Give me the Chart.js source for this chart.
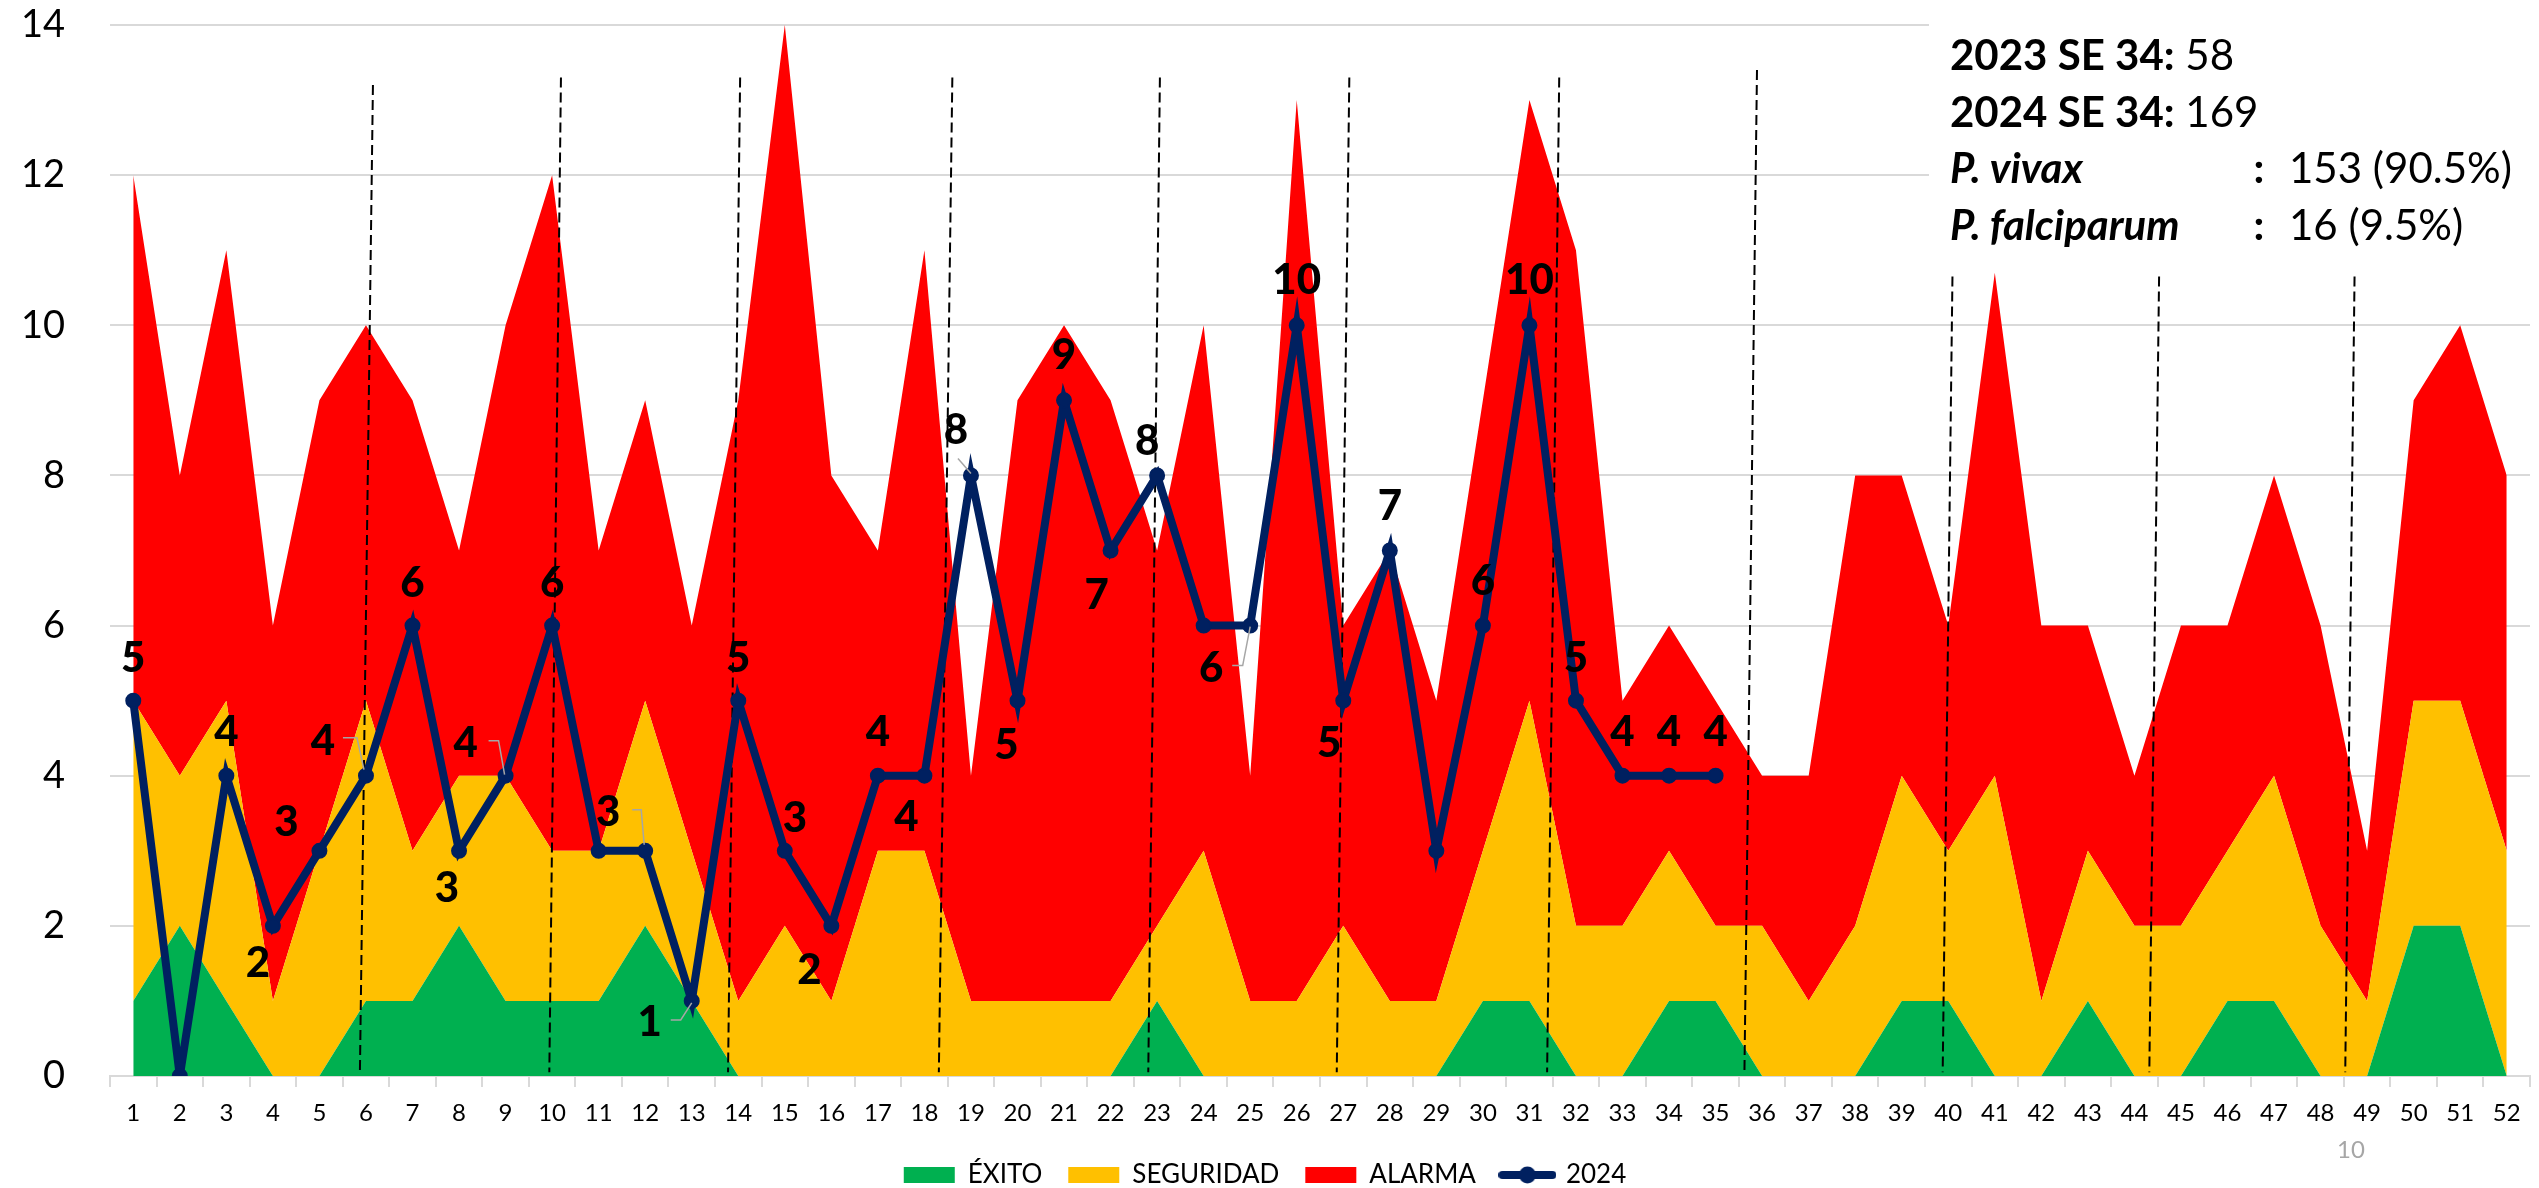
<!DOCTYPE html>
<html><head><meta charset="utf-8">
<script src="https://cdn.jsdelivr.net/npm/chart.js@4.4.1/dist/chart.umd.min.js"></script>
<style>html,body{margin:0;padding:0;background:#fff;overflow:hidden}</style>
</head><body>
<canvas id="c" width="2539" height="1188" style="width:2539px;height:1188px;display:block"></canvas>
<script>
// ---------- DATA ----------
const weekLabels = ['1','2','3','4','5','6','7','8','9','10','11','12','13','14','15','16','17','18','19','20','21','22','23','24','25','26','27','28','29','30','31','32','33','34','35','36','37','38','39','40','41','42','43','44','45','46','47','48','49','50','51','52'];
// cumulative limits of the endemic channel
const exito     = [1,2,1,0,0,1,1,2,1,1,1,2,1,0,0,0,0,0,0,0,0,0,1,0,0,0,0,0,0,1,1,0,0,1,1,0,0,0,1,1,0,0,1,0,0,1,1,0,0,2,2,0];
const seguridad = [5,4,5,1,3,5,3,4,4,3,3,5,3,1,2,1,3,3,1,1,1,1,2,3,1,1,2,1,1,3,5,2,2,3,2,2,1,2,4,3,4,1,3,2,2,3,4,2,1,5,5,3];
const alarma    = [12,8,11,6,9,10,9,7,10,12,7,9,6,9,14,8,7,11,4,9,10,9,7,10,4,13,6,7,5,9,13,11,5,6,5,4,4,8,8,6,10.7,6,6,4,6,6,8,6,3,9,10,8];
const casos2024 = [5,0,4,2,3,4,6,3,4,6,3,3,1,5,3,2,4,4,8,5,9,7,8,6,6,10,5,7,3,6,10,5,4,4,4,null,null,null,null,null,null,null,null,null,null,null,null,null,null,null,null,null];
const seriesNames = ['ÉXITO','SEGURIDAD','ALARMA','2024'];
const yTicks = [0,2,4,6,8,10,12,14];
// month separators (in week units): top x, bottom x, top value
const monthTopWeek    = [6.15,10.19,14.04,18.6,23.06,27.13,31.64,35.89,40.09,44.53,48.73];
const monthBottomWeek = [5.87,9.94,13.78,18.31,22.81,26.86,31.38,35.62,39.88,44.32,48.53];
const monthTopValue   = [13.2,13.3,13.3,13.3,13.3,13.3,13.3,13.4,10.65,10.65,10.65];
const infoLines = [
  [['b','2023 SE 34:'],['r',' 58']],
  [['b','2024 SE 34:'],['r',' 169']],
  [['bi','P. vivax'],['colon',':'],['val','153 (90.5%)']],
  [['bi','P. falciparum'],['colon',':'],['val','16 (9.5%)']]
];
const pageNumber = '10';

// ---------- STYLE ----------
const COLORS = ['#00B050','#FFC000','#FF0000','#002060'];
const FONT = 'Lato';
// label offsets (px) relative to the point, null = no label
const labelOffsets = [
 [0,-44], null, [0,-45], [-15,36], [-33,-30], [-43,-36], [0,-44], [-12,36], [-40,-34], [0,-44],
 null, [-37,-40], [-42,20], [0,-44], [10,-34], [-22,43], [0,-45], [-18,40], [-15,-47], [-11,43],
 [0,-46], [-14,43], [-10,-36], null, [-39,41], [0,-46], [-14,41], [0,-46], null, [0,-46],
 [0,-46], [0,-44], [0,-45], [0,-45], [0,-45]
];
const leaders = {5:[[-23,-38],[-9,-38],[-2,-6]], 8:[[-17,-35],[-7,-35],[-1,-1]], 11:[[-13,-41],[-4,-41],[-1,-6]],
                 12:[[-21,19],[-11,19],[0,2]], 18:[[-13,-17],[0,-2]], 24:[[-18,40],[-7.5,40],[0,1]]};

// legend marker for the line series
const lineMarker = document.createElement('canvas');
lineMarker.width = 58; lineMarker.height = 18;
(function(){const g=lineMarker.getContext('2d');g.strokeStyle=COLORS[3];g.lineWidth=8;g.lineCap='round';g.beginPath();g.moveTo(4,9);g.lineTo(54,9);g.stroke();
g.fillStyle=COLORS[3];g.beginPath();g.arc(29,9,8.5,0,Math.PI*2);g.fill();})();

function weekToPx(chart, w){
  const x = chart.scales.x; const p0 = x.getPixelForValue(0), p1 = x.getPixelForValue(1);
  return p0 + (w-1)*(p1-p0);
}

const decorPlugin = {
  id:'decor',
  afterLayout(chart){ if(chart.legend){chart.legend.top += 10; chart.legend.bottom += 10;} },
  beforeDatasetsDraw(chart){
    const ctx = chart.ctx; ctx.save(); ctx.fillStyle='#fff'; ctx.fillRect(1929,0,chart.width-1929,272); ctx.restore();
  },
  afterDatasetDraw(chart, args){
    if (args.index !== 0) return;
    const ctx = chart.ctx, y = chart.scales.y;
    ctx.save(); ctx.strokeStyle='#000'; ctx.lineWidth=2; ctx.setLineDash([10,5]);
    for (let i=0;i<monthTopWeek.length;i++){
      ctx.beginPath();
      ctx.moveTo(weekToPx(chart,monthTopWeek[i]), y.getPixelForValue(monthTopValue[i]));
      ctx.lineTo(weekToPx(chart,monthBottomWeek[i]), y.getPixelForValue(0.05));
      ctx.stroke();
    }
    ctx.restore();
  },
  afterDatasetsDraw(chart){
    const ctx = chart.ctx, meta = chart.getDatasetMeta(3);
    ctx.save();
    ctx.strokeStyle='#A6A6A6'; ctx.lineWidth=1.5;
    Object.keys(leaders).forEach(k=>{
      const pt = meta.data[+k]; const pts = leaders[k];
      ctx.beginPath(); ctx.moveTo(pt.x+pts[0][0], pt.y+pts[0][1]);
      for (let j=1;j<pts.length;j++) ctx.lineTo(pt.x+pts[j][0], pt.y+pts[j][1]);
      ctx.stroke();
    });
    const fs = 42;
    ctx.font = `900 ${fs}px ${FONT}`; ctx.fillStyle='#000'; ctx.textAlign='center'; ctx.textBaseline='alphabetic';
    casos2024.forEach((v,i)=>{
      if (v===null || !labelOffsets[i]) return;
      const pt = meta.data[i];
      ctx.fillText(String(v), pt.x+labelOffsets[i][0], pt.y+labelOffsets[i][1]+fs*0.36);
    });
    ctx.restore();
  },
  afterDraw(chart){
    const ctx = chart.ctx; ctx.save(); ctx.fillStyle='#000'; ctx.textBaseline='alphabetic'; ctx.textAlign='left';
    const base = [70,127,183,240]; const fs = 42;
    infoLines.forEach((line,li)=>{
      let x = 1950;
      line.forEach(([kind,txt])=>{
        if (kind==='b'){ctx.font=`bold ${fs}px ${FONT}`;}
        else if (kind==='bi'){ctx.font=`italic bold ${fs}px ${FONT}`;}
        else if (kind==='r'){ctx.font=`${fs}px ${FONT}`;}
        else if (kind==='colon'){ctx.font=`bold ${fs}px ${FONT}`; ctx.textAlign='center'; ctx.fillText(txt,2259,base[li]); ctx.textAlign='left'; return;}
        else if (kind==='val'){ctx.font=`${fs}px ${FONT}`; ctx.fillText(txt,2289,base[li]); return;}
        ctx.fillText(txt,x,base[li]); x += ctx.measureText(txt).width;
      });
    });
    ctx.font = `24px ${FONT}`; ctx.fillStyle='#A6A6A6'; ctx.textAlign='center'; ctx.textBaseline='middle';
    ctx.fillText(pageNumber, 2351, 1150);
    ctx.restore();
  }
};

new Chart(document.getElementById('c'), {
  type:'line',
  data:{
    labels: weekLabels,
    datasets:[
      {label:seriesNames[0], data:exito, backgroundColor:COLORS[0], borderColor:COLORS[0], borderWidth:0, pointRadius:0, fill:'origin', order:1},
      {label:seriesNames[1], data:seguridad, backgroundColor:COLORS[1], borderColor:COLORS[1], borderWidth:0, pointRadius:0, fill:'-1', order:2},
      {label:seriesNames[2], data:alarma, backgroundColor:COLORS[2], borderColor:COLORS[2], borderWidth:0, pointRadius:0, fill:'-1', order:3},
      {label:seriesNames[3], data:casos2024, borderColor:COLORS[3], backgroundColor:COLORS[3], borderWidth:8, pointRadius:7, pointBorderWidth:2, pointBackgroundColor:COLORS[3], pointBorderColor:COLORS[3], fill:false, order:0, spanGaps:false}
    ]
  },
  options:{
    responsive:false, animation:false, devicePixelRatio:1,
    elements:{line:{tension:0}},
    layout:{padding:{top:25,right:9,left:0,bottom:0}},
    scales:{
      x:{offset:true,
         grid:{offset:true, drawOnChartArea:false, drawTicks:true, tickLength:11, color:'#D9D9D9', lineWidth:2},
         border:{color:'#D9D9D9', width:2},
         ticks:{font:{family:FONT,size:24}, color:'#000', padding:12, maxRotation:0, autoSkip:false},
         afterFit(s){ s.height = 50; }
      },
      y:{min:0,max:14,
         afterBuildTicks(s){ s.ticks = yTicks.map(v=>({value:v})); },
         grid:{color:'#D9D9D9', lineWidth:2, drawTicks:false},
         border:{display:false},
         ticks:{font:{family:FONT,size:38}, color:'#000', padding:45},
         afterFit(s){ s.width = 110; s.paddingTop = 0; s.paddingBottom = 0; }
      }
    },
    plugins:{
      tooltip:{enabled:false},
      legend:{position:'bottom',
        labels:{usePointStyle:true, pointStyleWidth:51, boxHeight:16, padding:26, color:'#000', font:{family:FONT,size:26},
          sort:(a,b)=>a.datasetIndex-b.datasetIndex,
          generateLabels(chart){
            const items = Chart.defaults.plugins.legend.labels.generateLabels(chart);
            items.forEach(it=>{
              const i = it.datasetIndex;
              if (i===3){ it.pointStyle = lineMarker; }
              else { it.pointStyle='rect'; it.fillStyle=COLORS[i]; it.strokeStyle=COLORS[i]; it.lineWidth=0; }
            });
            return items;
          }
        }
      }
    }
  },
  plugins:[decorPlugin]
});
</script>
</body></html>
